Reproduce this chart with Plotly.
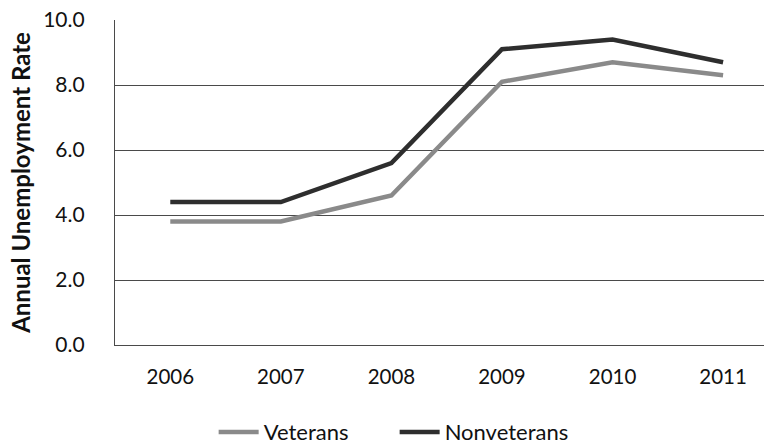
import plotly.graph_objects as go

years = ["2006", "2007", "2008", "2009", "2010", "2011"]
veterans = [3.8, 3.8, 4.6, 8.1, 8.7, 8.3]
nonveterans = [4.4, 4.4, 5.6, 9.1, 9.4, 8.7]
y_ticks = [0, 2, 4, 6, 8, 10]

FONT = "Lato"
TEXT = "#111"

fig = go.Figure()
fig.add_trace(go.Scatter(
    x=years, y=veterans, name="Veterans", mode="lines",
    line=dict(color="#8a8a8a", width=4.5),
))
fig.add_trace(go.Scatter(
    x=years, y=nonveterans, name="Nonveterans", mode="lines",
    line=dict(color="#2e2e2e", width=4.5),
))

fig.update_layout(
    width=764, height=447,
    margin=dict(l=115, r=0, t=20, b=102, autoexpand=False),
    paper_bgcolor="white", plot_bgcolor="white",
    font=dict(family=FONT, size=21, color=TEXT),
    showlegend=True,
    legend=dict(
        orientation="h", x=0.152, xanchor="left", y=-0.268, yanchor="middle",
        font=dict(family=FONT, size=22, color=TEXT),
        itemwidth=40, entrywidth=126, entrywidthmode="pixels",
        traceorder="normal", tracegroupgap=0,
    ),
)
fig.update_xaxes(
    type="category", range=[-0.5, 5.37],
    showgrid=False, showline=True, linecolor="#4a4a4a", linewidth=1.2,
    ticks="", ticklabelstandoff=13,
    tickfont=dict(family=FONT, size=20.5, color=TEXT),
)
fig.update_yaxes(
    range=[0, 10], tickvals=y_ticks,
    ticktext=[f"{v:.1f}" for v in y_ticks],
    showgrid=True, gridcolor="#4a4a4a", gridwidth=1.2,
    showline=True, linecolor="#4a4a4a", linewidth=1.2,
    zeroline=False, ticks="", ticklabelstandoff=25,
    tickfont=dict(family=FONT, size=21, color=TEXT),
    title=dict(text="<b>Annual Unemployment Rate</b>", standoff=5,
               font=dict(family=FONT, size=24, color=TEXT)),
)

fig.write_html("out.html")
